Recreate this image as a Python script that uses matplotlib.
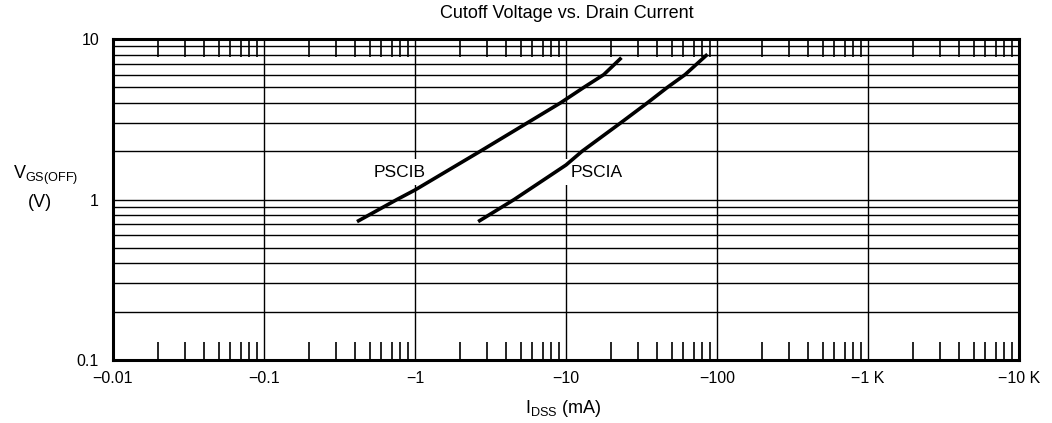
import matplotlib
matplotlib.use('Agg')
from matplotlib import pyplot as plt
from matplotlib.ticker import FixedLocator, NullFormatter

plt.rcParams['font.family'] = ['Liberation Sans', 'DejaVu Sans']
plt.rcParams['mathtext.fontset'] = 'custom'
plt.rcParams['mathtext.rm'] = 'Liberation Sans'

#   curve data (I_DSS in mA, V_GS(OFF) in V)
pscib_i = [0.413, 0.76, 1.0, 2.71, 5.54, 9.2, 13.15, 17.8, 23.3]
pscib_v = [0.728, 1.0, 1.146, 2.0, 3.0, 4.0, 5.0, 6.0, 7.65]
pscia_i = [2.62, 4.54, 10, 12.8, 23.0, 34.6, 47, 61.5, 86.5]
pscia_v = [0.728, 1.0, 1.64, 2.0, 3.0, 4.0, 5.0, 6.0, 8.03]

x_ticks = [0.01, 0.1, 1, 10, 100, 1000, 10000]
x_labels = ['\u22120.01', '\u22120.1', '\u22121', '\u221210', '\u2212100', '\u22121 K', '\u221210 K']
y_ticks = [0.1, 1, 10]
y_labels = ['0.1', '1', '10']

fig = plt.figure(figsize=(10.52, 4.23), dpi=100)
ax = fig.add_axes([0.1074, 0.1489, 0.8612, 0.7589])
ax.set_xscale('log')
ax.set_yscale('log')
ax.set_xlim(0.01, 10000)
ax.set_ylim(0.1, 10)

# horizontal grid at every y minor, vertical only at decades
y_minor = [m * d for d in (0.1, 1) for m in range(2, 10)]
ax.yaxis.set_minor_locator(FixedLocator(y_minor))
ax.yaxis.set_minor_formatter(NullFormatter())
x_minor = [m * 10.0 ** e for e in range(-2, 4) for m in range(2, 10)]
ax.xaxis.set_minor_locator(FixedLocator(x_minor))
ax.xaxis.set_minor_formatter(NullFormatter())

ax.set_xticks(x_ticks)
ax.set_xticklabels(x_labels, fontsize=11.5)
ax.set_yticks(y_ticks)
ax.set_yticklabels(y_labels, fontsize=11.5)

ax.grid(True, which='major', axis='both', color='black', linewidth=1.0)
ax.grid(True, which='minor', axis='y', color='black', linewidth=1.0)

ax.tick_params(which='major', length=0)
ax.tick_params(axis='x', which='major', pad=8)
ax.tick_params(axis='y', which='major', pad=10)
ax.tick_params(axis='x', which='minor', direction='in', length=13, width=1.2,
               top=True, bottom=True, color='black')
ax.tick_params(axis='y', which='minor', length=0)

for s in ax.spines.values():
    s.set_linewidth(2.2)

ax.plot(pscib_i, pscib_v, color='black', linewidth=2.6, solid_capstyle='butt', zorder=5)
ax.plot(pscia_i, pscia_v, color='black', linewidth=2.6, solid_capstyle='butt', zorder=5)

ax.text(0.79, 1.48, 'PSCIB', fontsize=12.5, ha='center', va='center',
        bbox=dict(facecolor='white', edgecolor='none', pad=4), zorder=3)
ax.text(16.0, 1.48, 'PSCIA', fontsize=12.5, ha='center', va='center',
        bbox=dict(facecolor='white', edgecolor='none', pad=4), zorder=3)

fig.text(0.539, 0.967, 'Cutoff Voltage vs. Drain Current', fontsize=13,
         ha='center', va='center')
fig.text(0.043, 0.585, r'V$_{\mathrm{GS(OFF)}}$', fontsize=13, ha='center', va='center')
fig.text(0.038, 0.522, '(V)', fontsize=13, ha='center', va='center')
fig.text(0.535, 0.035, r'I$_{\mathrm{DSS}}$ (mA)', fontsize=13, ha='center', va='center')

plt.savefig('out.png', dpi=100)
